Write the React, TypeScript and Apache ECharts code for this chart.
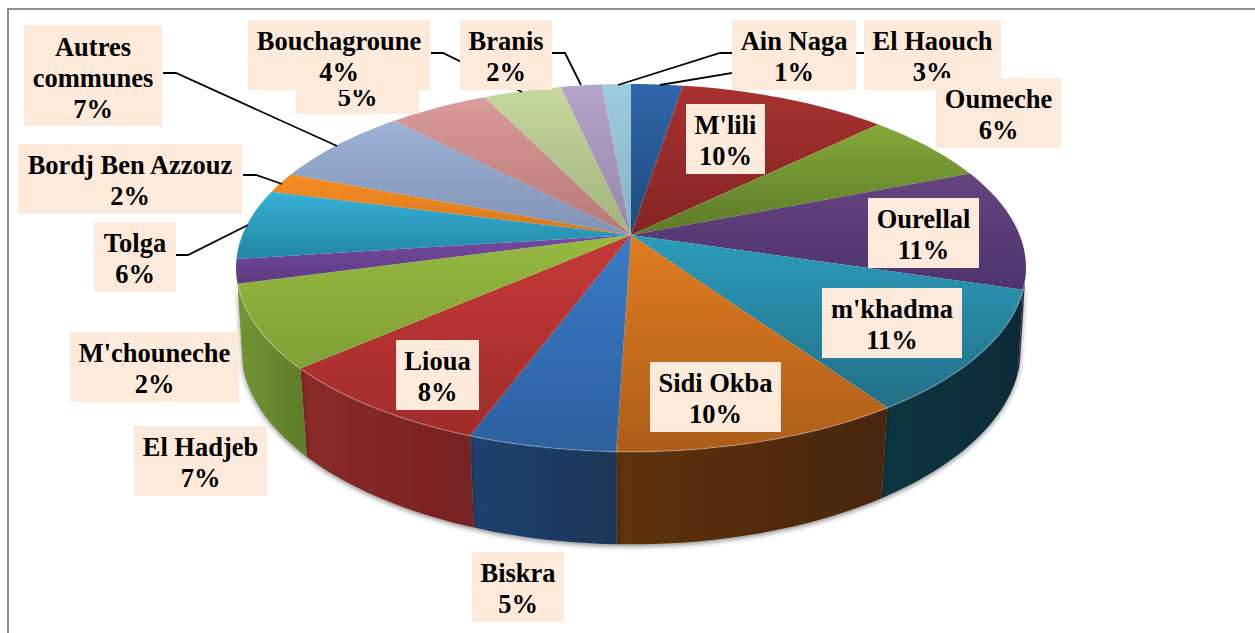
import React, { useEffect, useRef } from "react";
import * as echarts from "echarts";

const communes = ["El Haouch", "M'lili", "Oumeche", "Ourellal", "m'khadma", "Sidi Okba", "Biskra", "Lioua", "El Hadjeb", "M'chouneche", "Tolga", "Bordj Ben Azzouz", "Autres communes", "(hidden)", "Bouchagroune", "Branis", "Ain Naga"];
const shares = [2.5, 10.2, 6.3, 10.7, 10.8, 10.0, 5.1, 7.9, 7.3, 2.1, 6.2, 1.8, 7.0, 4.9, 3.8, 2.0, 1.4];

const topLight = ["#2f66aa", "#a83230", "#84a93a", "#66457f", "#2b9cba", "#e07c20", "#3a7ac6", "#c63a38", "#95b940", "#754a9e", "#36b1d6", "#f88c22", "#9cb2d6", "#da9c9a", "#c5d89d", "#b5a4c9", "#9ecde0"];
const topDark = ["#1d4c7c", "#832422", "#5c7a28", "#4e336c", "#236f88", "#ac5e1a", "#2c60a0", "#a02c2a", "#80a036", "#5e3c80", "#2386a6", "#d4781c", "#8092b4", "#b47876", "#a2b27c", "#9686a8", "#86b0c0"];
const wallLight = ["#1d4c7c", "#8a2a28", "#5c7a28", "#44305f", "#113641", "#5e3209", "#20426f", "#8c2b29", "#729433", "#5e3c80", "#2386a6", "#d4781c", "#8092b4", "#b47876", "#a2b27c", "#9686a8", "#86b0c0"];
const wallDark = ["#1d4c7c", "#832422", "#5c7a28", "#3d2a55", "#0c2b37", "#482707", "#1a3657", "#742120", "#5e7c29", "#5e3c80", "#2386a6", "#d4781c", "#8092b4", "#b47876", "#a2b27c", "#9686a8", "#86b0c0"];

// Label texts and their boxes, painted in this order.
const labelTexts = ["Autres\ncommunes\n7%", "Bordj Ben Azzouz\n2%", "Tolga\n6%", "5%", "Bouchagroune\n4%", "Branis\n2%", "Ain Naga\n1%", "El Haouch\n3%", "Oumeche\n6%", "M'lili\n10%", "Ourellal\n11%", "m'khadma\n11%", "Sidi Okba\n10%", "Lioua\n8%", "M'chouneche\n2%", "El Hadjeb\n7%", "Biskra\n5%"];
const labelBoxes = [[24, 25, 138, 101], [18, 144, 224, 70], [94, 222, 82, 70], [296, 44, 123, 70], [248, 20, 182, 70], [460, 20, 92, 70], [732, 20, 124, 70], [864, 20, 137, 70], [936, 78, 125, 70], [686, 104, 79, 70], [868, 198, 111, 70], [822, 288, 140, 70], [650, 362, 131, 70], [396, 340, 83, 70], [70, 332, 169, 70], [134, 426, 133, 70], [472, 552, 92, 70]];
const labelTextY = [78, 180, 258, 97, 56, 56, 56, 56, 114, 140, 234, 324, 398, 376, 368, 462, 588];
const leaderLines = [
  [[163, 73], [176, 73], [337, 146]],
  [[243, 175], [256, 175], [282, 184]],
  [[176, 255], [188, 255], [248, 225]],
  [[431, 53], [443, 53], [522, 92]],
  [[552, 53], [565, 53], [581, 85]],
  [[732, 53], [720, 53], [618, 85]],
  [[864, 53], [852, 53], [660, 85]],
];

// Perspective of the disc.
const CX = 631, CY = 235, K = 388.6, A = 135.9, C = -0.179;
const WALL_FROM = 0.24;
const project = (deg: number) => {
  const r = (deg * Math.PI) / 180;
  const x = Math.sin(r), t = -Math.cos(r);
  const w = 1 + C * t;
  return [CX + (K * x) / w, (A * t + CY) / w, t];
};
const lower = (p: number[]) => [CX + (p[0] - CX) * (0.99 - 0.015 * p[2]), p[1] + 70 + 0.05 * p[1]];

const startOf = (i: number) => shares.slice(0, i).reduce((a, b) => a + b, 0);
const arcOf = (i: number) => {
  const from = startOf(i) * 3.6, to = (startOf(i) + shares[i]) * 3.6;
  const n = Math.max(4, Math.ceil((to - from) / 1.5));
  const pts: number[][] = [];
  for (let k = 0; k <= n; k++) pts.push(project(from + ((to - from) * k) / n));
  return pts;
};
const grad = (x2: number, y2: number, a: string, b: string) =>
  new echarts.graphic.LinearGradient(0, 0, x2, y2, [{ offset: 0, color: a }, { offset: 1, color: b }]);

export default function App() {
  const ref = useRef<HTMLDivElement>(null);
  useEffect(() => {
    document.body.style.margin = "0";
    document.body.style.background = "#fff";
    const chart = echarts.init(ref.current!, null, { renderer: "svg" });
    const rows = shares.map((v, i) => ({ name: communes[i], value: [i, v] }));
    const graphics: any[] = [
      { type: "polyline", z: 20, shape: { points: [[8, 633], [8, 9], [1255, 9]] }, style: { stroke: "#8f8f8f", lineWidth: 2, fill: "none" } },
    ];
    leaderLines.forEach((pts) => graphics.push({ type: "polyline", z: 21, shape: { points: pts }, style: { stroke: "#000", lineWidth: 1.8, fill: "none" } }));
    labelBoxes.forEach((b, i) => {
      const z = 30 + i;
      graphics.push({ type: "rect", z, shape: { x: b[0], y: b[1], width: b[2], height: b[3] }, style: { fill: "#fdeada" } });
      graphics.push({
        type: "text", z, x: b[0] + b[2] / 2, y: labelTextY[i],
        style: { text: labelTexts[i], fill: "#000", font: "bold 26.5px 'Liberation Serif'", lineHeight: 31, textAlign: "center", textVerticalAlign: "middle" },
      });
    });
    chart.setOption({
      animation: false,
      backgroundColor: "#fff",
      graphic: { elements: graphics },
      series: [
        {
          type: "custom", coordinateSystem: "none", z: 2, silent: true, data: rows,
          renderItem: (_p: any, api: any) => {
            const i = api.value(0);
            const arc = arcOf(i).filter((p) => p[2] > WALL_FROM);
            if (arc.length < 2) return { type: "group", children: [] };
            const pts = arc.map((p) => [p[0], p[1]]).concat(arc.map(lower).reverse());
            return {
              type: "polygon", shape: { points: pts },
              style: { fill: grad(1, 0, wallLight[i], wallDark[i]), shadowBlur: 5, shadowColor: "rgba(0,0,0,0.45)", shadowOffsetY: 2 },
            };
          },
        },
        {
          type: "custom", coordinateSystem: "none", z: 3, silent: true, data: rows,
          renderItem: (_p: any, api: any) => {
            const i = api.value(0);
            const arc = arcOf(i);
            const rim = arc.filter((p) => p[2] > WALL_FROM).map((p) => [p[0], p[1]]);
            const children: any[] = [
              { type: "polygon", shape: { points: [[CX, CY], ...arc.map((p) => [p[0], p[1]])] }, style: { fill: grad(0, 1, topLight[i], topDark[i]) } },
            ];
            if (rim.length > 1) children.push({ type: "polyline", shape: { points: rim }, style: { stroke: "rgba(255,255,255,0.22)", lineWidth: 1.5, fill: "none" } });
            return { type: "group", children };
          },
        },
      ],
    });
    return () => chart.dispose();
  }, []);
  return <div ref={ref} style={{ width: 1255, height: 633 }} />;
}
